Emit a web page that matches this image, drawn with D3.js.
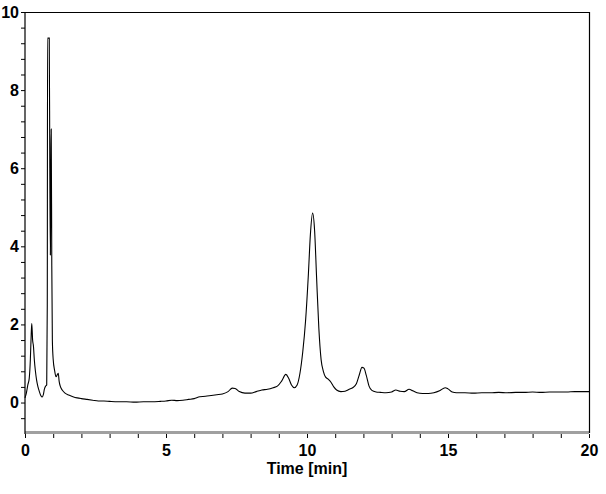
<!DOCTYPE html>
<html>
<head>
<meta charset="utf-8">
<script src="https://cdn.jsdelivr.net/npm/d3@7"></script>
<style>
  body { margin: 0; background: #fff; }
  svg { display: block; }
  .tick text { font-family: "Liberation Sans", Arial, sans-serif; font-weight: bold; font-size: 16px; fill: #000; }
  .axis-title { font-family: "Liberation Sans", Arial, sans-serif; font-weight: bold; font-size: 16px; fill: #000; }
</style>
</head>
<body>
<svg id="chart" width="606" height="494"></svg>
<script>
// chromatogram trace
var timeMin = [
  0.00, 0.05, 0.10, 0.15, 0.19, 0.22, 0.24, 0.27, 0.30, 0.33, 0.37, 0.41, 0.46, 0.51, 0.56, 0.61,
  0.65, 0.69, 0.73, 0.77, 0.79, 0.80, 0.86, 0.88, 0.90, 0.92, 0.93, 0.95, 0.97, 1.00, 1.05, 1.10,
  1.15, 1.18, 1.21, 1.25, 1.32, 1.42, 1.55, 1.70, 1.85, 2.00, 2.20, 2.40, 2.60, 2.80, 3.00, 3.30,
  3.60, 3.90, 4.20, 4.50, 4.80, 5.00, 5.20, 5.40, 5.60, 5.80, 6.00, 6.20, 6.40, 6.60, 6.80, 7.00,
  7.20, 7.35, 7.45, 7.60, 7.80, 8.00, 8.20, 8.40, 8.60, 8.80, 8.95, 9.10, 9.25, 9.35, 9.45, 9.55,
  9.65, 9.75, 9.85, 9.95, 10.05, 10.12, 10.20, 10.27, 10.34, 10.42, 10.50, 10.58, 10.66, 10.75, 10.85, 10.95,
  11.05, 11.20, 11.35, 11.50, 11.62, 11.75, 11.85, 11.95, 12.02, 12.10, 12.20, 12.30, 12.45, 12.60, 12.80, 13.00,
  13.15, 13.30, 13.45, 13.62, 13.75, 13.90, 14.10, 14.30, 14.50, 14.70, 14.90, 15.00, 15.15, 15.30, 15.60, 15.90,
  16.20, 16.50, 16.80, 17.10, 17.40, 17.70, 18.00, 18.30, 18.60, 18.90, 19.20, 19.50, 19.80, 20.00
];
var response = [
  0.12, 0.25, 0.45, 0.62, 1.10, 1.75, 2.02, 1.60, 1.44, 1.10, 0.80, 0.58, 0.40, 0.28, 0.18, 0.14,
  0.20, 0.35, 0.42, 0.45, 2.50, 9.33, 9.33, 6.00, 3.78, 6.50, 7.00, 3.50, 1.60, 1.10, 0.82, 0.66,
  0.72, 0.75, 0.55, 0.42, 0.32, 0.24, 0.19, 0.15, 0.12, 0.10, 0.08, 0.06, 0.04, 0.04, 0.03, 0.02,
  0.02, 0.01, 0.02, 0.02, 0.03, 0.04, 0.06, 0.05, 0.06, 0.08, 0.10, 0.15, 0.16, 0.18, 0.20, 0.22,
  0.28, 0.37, 0.36, 0.28, 0.24, 0.24, 0.28, 0.32, 0.34, 0.38, 0.42, 0.55, 0.72, 0.62, 0.45, 0.38,
  0.45, 0.75, 1.30, 2.10, 3.30, 4.30, 4.85, 4.40, 3.20, 1.90, 1.10, 0.80, 0.65, 0.60, 0.52, 0.40,
  0.32, 0.28, 0.29, 0.34, 0.38, 0.48, 0.70, 0.90, 0.88, 0.70, 0.42, 0.31, 0.27, 0.26, 0.25, 0.27,
  0.32, 0.29, 0.28, 0.34, 0.30, 0.25, 0.23, 0.23, 0.25, 0.30, 0.38, 0.35, 0.27, 0.25, 0.25, 0.24,
  0.25, 0.25, 0.26, 0.25, 0.26, 0.26, 0.27, 0.26, 0.27, 0.27, 0.27, 0.28, 0.28, 0.28
];
var xTicks = [0, 5, 10, 15, 20];
var yTicks = [0, 2, 4, 6, 8, 10];

var svg = d3.select('#chart');
var margin = {top: 12, right: 17, bottom: 61, left: 25};
var width = 606 - margin.left - margin.right;
var height = 494 - margin.top - margin.bottom;

var g = svg.append('g')
  .attr('transform', 'translate(' + margin.left + ',' + margin.top + ')');

var xScale = d3.scaleLinear().domain([0, 20]).range([0, width]);
var yScale = d3.scaleLinear().domain([-0.78, 10]).range([height, 0]);

// minor ticks: every minute on x, every 0.4 on y
var xMinor = d3.range(0, 21, 1);
var yMinor = d3.range(-1, 26).map(function(i) { return +(i * 0.4).toFixed(1); });

var yAxis = d3.axisLeft(yScale)
  .tickValues(yMinor)
  .tickSize(4)
  .tickPadding(2)
  .tickFormat(function(d) {
    return yTicks.indexOf(d) >= 0 ? d : '';
  });

g.append('g')
  .attr('class', 'axis y')
  .call(yAxis)
  .call(function(sel) {
    sel.select('.domain').remove();
    sel.selectAll('.tick line').attr('stroke', '#000');
  });

var xAxis = d3.axisBottom(xScale)
  .tickValues(xMinor)
  .tickSize(4)
  .tickPadding(5)
  .tickFormat(function(d) {
    return xTicks.indexOf(d) >= 0 ? d : '';
  });

g.append('g')
  .attr('class', 'axis x')
  .attr('transform', 'translate(0,' + (height + 1) + ')')
  .call(xAxis)
  .call(function(sel) {
    sel.select('.domain').remove();
    sel.selectAll('.tick line').attr('stroke', '#000');
    sel.selectAll('.tick text').attr('dy', '0.8em');
  });

// frame
g.append('rect')
  .attr('x', 0).attr('y', height - 2)
  .attr('width', width).attr('height', 3)
  .attr('fill', '#a0a0a0');

g.append('path')
  .attr('d', 'M0,' + (height + 1) + 'V0.5H' + (width + 0.5) + 'V' + height)
  .attr('fill', 'none')
  .attr('stroke', '#000')
  .attr('stroke-width', 1.2);

var trace = timeMin.map(function(t, i) { return [t, response[i]]; });

var line = d3.line()
  .x(function(d) { return xScale(d[0]); })
  .y(function(d) { return yScale(d[1]); })
  .curve(d3.curveMonotoneX);

g.append('path')
  .datum(trace)
  .attr('d', line)
  .attr('fill', 'none')
  .attr('stroke', '#000')
  .attr('stroke-width', 1.1);

g.append('text')
  .attr('class', 'axis-title')
  .attr('x', width / 2)
  .attr('y', height + 41)
  .attr('text-anchor', 'middle')
  .text('Time [min]');
</script>
</body>
</html>
